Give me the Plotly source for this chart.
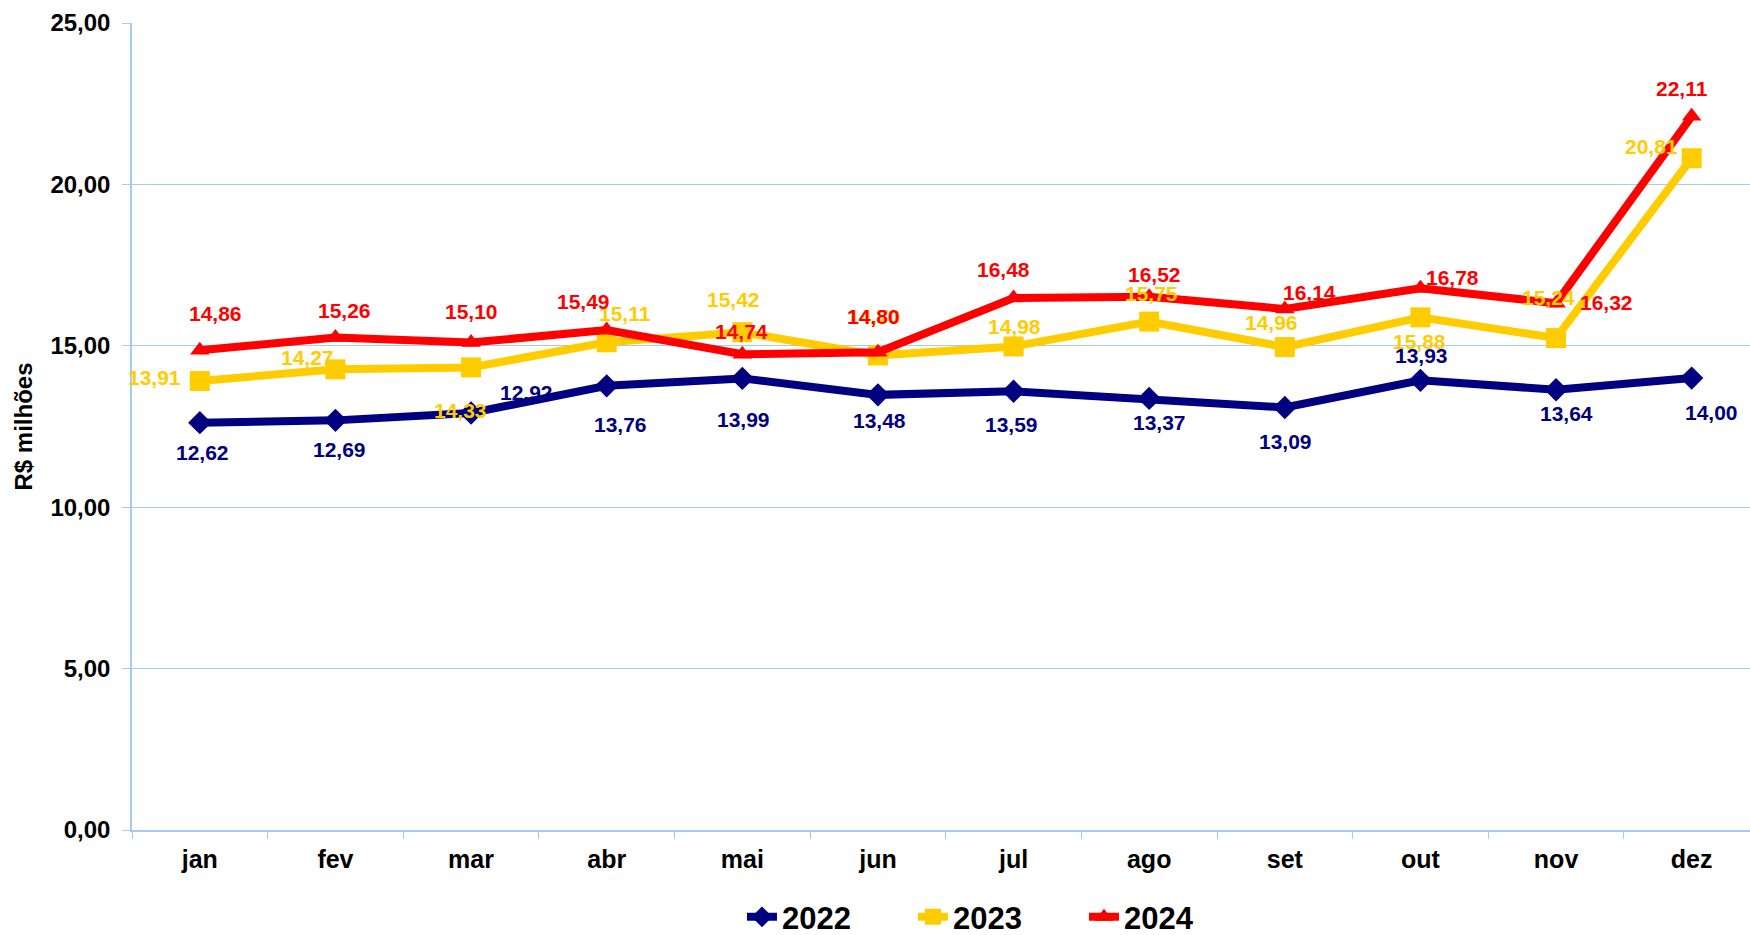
import plotly.graph_objects as go

months = ["jan", "fev", "mar", "abr", "mai", "jun", "jul", "ago", "set", "out", "nov", "dez"]
v2022 = [12.62, 12.69, 12.92, 13.76, 13.99, 13.48, 13.59, 13.37, 13.09, 13.93, 13.64, 14.00]
v2023 = [13.91, 14.27, 14.33, 15.11, 15.42, 14.70, 14.98, 15.75, 14.96, 15.88, 15.24, 20.81]
v2024 = [14.86, 15.26, 15.10, 15.49, 14.74, 14.80, 16.48, 16.52, 16.14, 16.78, 16.32, 22.11]
yticks = [0, 5, 10, 15, 20, 25]
ytick_text = ["0,00", "5,00", "10,00", "15,00", "20,00", "25,00"]

# label offsets in pixels (dx right, dy down) relative to each point
off2022 = [(3, 30), (4, 29), (55, -20), (14, 39), (1, 41), (2, 26), (-2, 33), (10, 24), (1, 34), (1, -25), (10, 24), (20, 34)]
off2023 = [(-45, -3), (-28, -12), (-11, 43), (18, -29), (-9, -33), (-3, -39), (1, -20), (2, -28), (-13, -25), (-1, 24), (-8, -41), (-40, -12)]
off2024 = [(16, -37), (9, -27), (0, -31), (-23, -28), (-1, -23), (-4, -36), (-10, -29), (5, -22), (25, -17), (32, -11), (50, -1), (-10, -28)]

FONT = "Liberation Sans, Arial, sans-serif"
GRID = "#A6CAF0"
series = [
    ("2022", v2022, "#000080", "diamond", 18, off2022),
    ("2023", v2023, "#FFCC00", "square", 20, off2023),
    ("2024", v2024, "#FF0000", "triangle-up", 17, off2024),
]

fig = go.Figure()
annotations = []
for name, vals, color, sym, msize, offs in series:
    fig.add_trace(go.Scatter(
        x=months, y=vals, name=name, mode="lines+markers",
        line=dict(color=color, width=8),
        marker=dict(symbol=sym, size=msize, color=color),
    ))
    for m, v, (dx, dy) in zip(months, vals, offs):
        annotations.append(dict(
            x=m, y=v, text=f"{v:.2f}".replace(".", ","), showarrow=False,
            xshift=dx, yshift=-dy,
            font=dict(family=FONT, size=21, color=color, weight="bold"),
        ))

fig.update_layout(
    width=1750, height=935,
    margin=dict(l=132, r=0, t=23, b=105, autoexpand=False),
    paper_bgcolor="white", plot_bgcolor="white",
    showlegend=True,
    legend=dict(
        orientation="h", x=0.377, xanchor="left", y=-0.108, yanchor="middle",
        font=dict(family=FONT, size=31, color="black", weight="bold"),
        entrywidth=126, itemsizing="trace",
    ),
    annotations=annotations,
)
fig.update_xaxes(
    type="category", range=[-0.5, 11.43], automargin=False,
    showline=True, linecolor=GRID, linewidth=2,
    ticks="outside", tickson="boundaries", ticklen=7, tickcolor=GRID,
    showgrid=False, zeroline=False,
    tickfont=dict(family=FONT, size=25, color="black", weight="bold"),
    ticklabelstandoff=6,
)
fig.update_yaxes(
    range=[0, 25], tickvals=yticks, ticktext=ytick_text, automargin=False,
    showline=True, linecolor=GRID, linewidth=1.5,
    showgrid=True, gridcolor=GRID, gridwidth=1,
    ticks="outside", ticklen=8, tickcolor=GRID,
    zeroline=False,
    tickfont=dict(family=FONT, size=24, color="black", weight="bold"),
    ticklabelstandoff=7,
    title=dict(text="R$ milhões", font=dict(family=FONT, size=24, color="black", weight="bold"), standoff=11),
)

fig.write_html(
    "out.html",
    config={"displayModeBar": False},
    post_script="document.body.style.margin='0';document.body.style.overflow='hidden';",
)
